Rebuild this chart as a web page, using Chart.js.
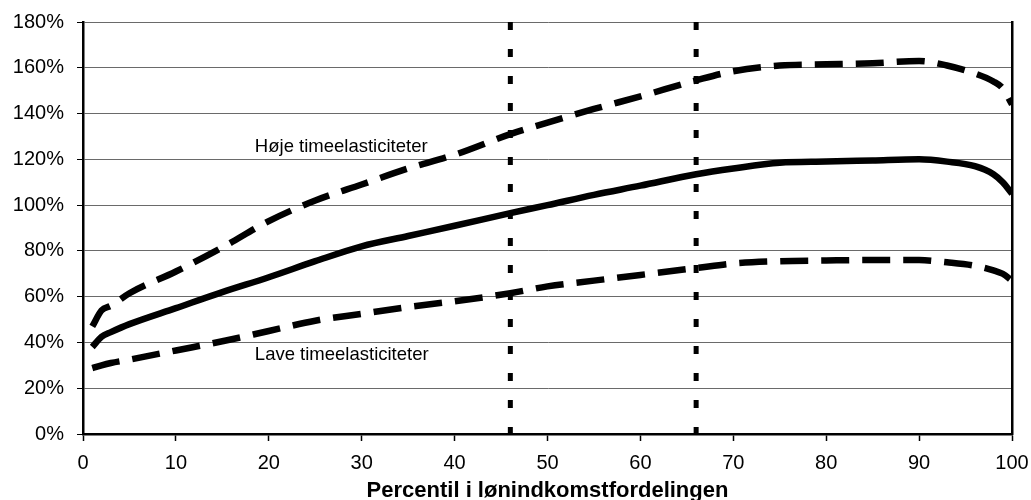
<!DOCTYPE html>
<html>
<head>
<meta charset="utf-8">
<script src="https://cdn.jsdelivr.net/npm/chart.js@4"></script>
<style>
  html, body { margin: 0; padding: 0; background: #fff; }
  #wrap { width: 1031px; height: 500px; }
</style>
</head>
<body>
<div id="wrap"><canvas id="chart" width="1031" height="500"></canvas></div>
<script>
// percentiles in the wage income distribution
const percentiles = [1, 2, 3, 5, 10, 15, 20, 25, 30, 35, 40, 46, 50, 55, 60, 66, 70, 75, 80, 85, 90, 93, 96, 98, 99, 100];
const highElast = [47, 54, 56, 61.5, 71, 81.5, 93, 102, 109, 116, 122, 131, 136, 142, 147.5, 154.5, 158.5, 161, 161.5, 162, 163, 161, 157.5, 154, 151, 144];
const middle = [38, 42.5, 44.5, 48, 55, 62, 68.5, 75.5, 82, 86.5, 91, 96.5, 100, 104.5, 108.5, 113.5, 116, 118.5, 119, 119.5, 120, 119, 117, 113.5, 110, 105];
const lowElast = [28.8, 30, 31, 32.5, 36.5, 40.5, 45, 49.5, 52.5, 55.5, 58, 61.5, 64.5, 67, 69.5, 72.5, 74.5, 75.5, 75.8, 76, 76, 75, 73.5, 71.5, 70, 67];
const markerPercentiles = [46, 66];
const yTicks = [0, 20, 40, 60, 80, 100, 120, 140, 160, 180];
const seriesLabels = ["Høje timeelasticiteter", "Lave timeelasticiteter"];

const FONT = "'Liberation Sans', Arial, sans-serif";

function toPoints(ys) {
  return percentiles.map((p, i) => ({ x: p, y: ys[i] }));
}

const datasets = [
  { data: toPoints(highElast), borderDash: [28, 13], borderWidth: 6.5 },
  { data: toPoints(middle), borderDash: [], borderWidth: 6.5 },
  { data: toPoints(lowElast), borderDash: [28, 13], borderWidth: 6.5 }
].map(d => Object.assign({
  borderColor: "#000",
  pointRadius: 0,
  tension: 0.3,
  cubicInterpolationMode: "monotone",
  borderCapStyle: "butt",
  fill: false
}, d));

markerPercentiles.forEach(p => {
  datasets.push({
    data: [{ x: p, y: yTicks[yTicks.length - 1] }, { x: p, y: yTicks[0] }],
    borderColor: "#000",
    borderWidth: 5,
    borderDash: [8, 19],
    borderCapStyle: "butt",
    pointRadius: 0,
    tension: 0
  });
});

// text labels placed next to the curves
const curveLabels = {
  id: "curveLabels",
  afterDatasetsDraw(chart) {
    const { ctx, scales } = chart;
    const spots = [
      { text: seriesLabels[0], x: 18.5, y: 125.5 },
      { text: seriesLabels[1], x: 18.5, y: 34.5 }
    ];
    ctx.save();
    ctx.fillStyle = "#000";
    ctx.font = "18.5px " + FONT;
    ctx.textAlign = "left";
    ctx.textBaseline = "middle";
    spots.forEach(s => {
      ctx.fillText(s.text, scales.x.getPixelForValue(s.x), scales.y.getPixelForValue(s.y));
    });
    ctx.restore();
  }
};

new Chart(document.getElementById("chart"), {
  type: "line",
  data: { datasets },
  options: {
    responsive: false,
    animation: false,
    layout: { padding: { left: 0, top: 22, right: 19, bottom: 0 } },
    plugins: { legend: { display: false }, tooltip: { enabled: false } },
    scales: {
      x: {
        type: "linear",
        min: 0,
        max: 100,
        ticks: { stepSize: 10, color: "#000", font: { family: FONT, size: 20 }, padding: 10, maxRotation: 0 },
        grid: { drawOnChartArea: false, drawTicks: true, tickLength: 7, tickColor: "#000", tickWidth: 1.5 },
        border: { color: "#000", width: 2.5 },
        title: {
          display: true,
          text: "Percentil i lønindkomstfordelingen",
          color: "#000",
          font: { family: FONT, size: 22, weight: "bold", lineHeight: 1 },
          padding: { top: 4, bottom: -2 }
        },
        afterFit(scale) {
          scale.height = 66;
          scale.paddingLeft = 0;
          scale.paddingRight = 0;
        }
      },
      y: {
        min: 0,
        max: 180,
        ticks: { stepSize: 20, color: "#000", font: { family: FONT, size: 20 }, padding: 13, callback: v => v + "%" },
        grid: { color: "#6a6a6a", lineWidth: 1, tickLength: 6, tickColor: "#000" },
        border: { color: "#000", width: 2.5 },
        afterFit(scale) {
          scale.width = 83;
          scale.paddingTop = 0;
          scale.paddingBottom = 0;
        }
      },
      y2: {
        position: "right",
        min: 0,
        max: 180,
        ticks: { display: false },
        grid: { drawOnChartArea: false, drawTicks: false },
        border: { color: "#000", width: 2.5 },
        afterFit(scale) { scale.width = 0; }
      }
    }
  },
  plugins: [curveLabels]
});
</script>
</body>
</html>
